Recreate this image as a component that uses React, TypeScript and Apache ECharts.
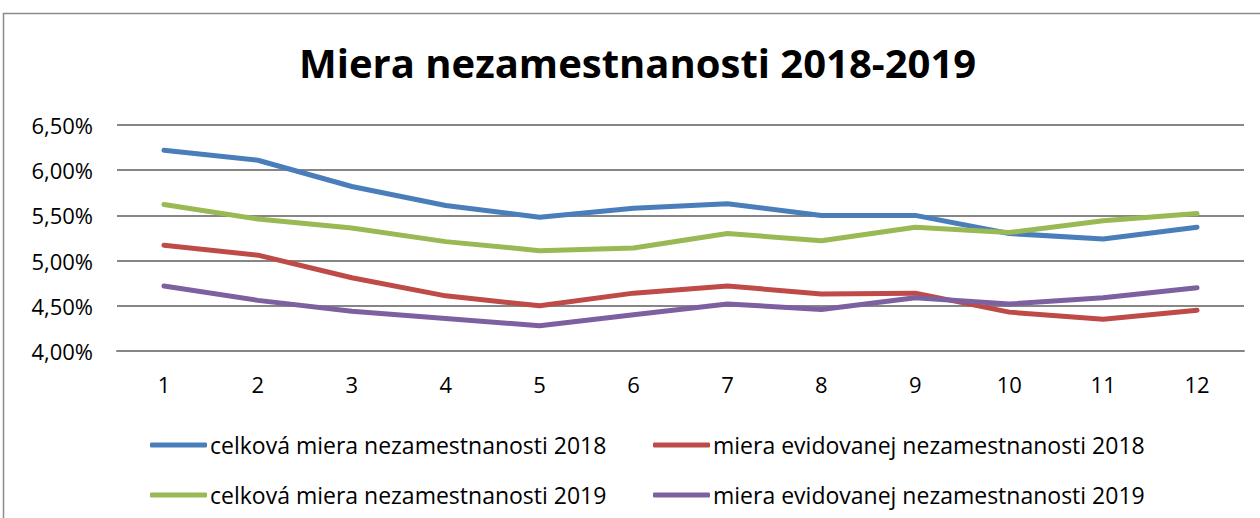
import React, { useEffect, useRef } from "react";
import * as echarts from "echarts";

const months = ["1", "2", "3", "4", "5", "6", "7", "8", "9", "10", "11", "12"];
const celkova2018 = [6.22, 6.11, 5.82, 5.61, 5.48, 5.58, 5.63, 5.50, 5.50, 5.30, 5.24, 5.37];
const evidovana2018 = [5.17, 5.06, 4.81, 4.61, 4.50, 4.64, 4.72, 4.63, 4.64, 4.43, 4.35, 4.45];
const celkova2019 = [5.62, 5.46, 5.36, 5.21, 5.11, 5.14, 5.30, 5.22, 5.37, 5.31, 5.44, 5.52];
const evidovana2019 = [4.72, 4.56, 4.44, 4.36, 4.28, 4.40, 4.52, 4.46, 4.59, 4.52, 4.59, 4.70];
const seriesNames = [
  "celková miera nezamestnanosti 2018",
  "miera evidovanej nezamestnanosti 2018",
  "celková miera nezamestnanosti 2019",
  "miera evidovanej nezamestnanosti 2019",
];
const colors = ["#4A7EBB", "#BE4B48", "#98B954", "#7D60A0"];

const FONT = "'Open Sans', 'Noto Sans', sans-serif";

export default function App() {
  const ref = useRef<HTMLDivElement>(null);
  useEffect(() => {
    document.body.style.margin = "0";
    const chart = echarts.init(ref.current!, null, { renderer: "svg" });
    const data = [celkova2018, evidovana2018, celkova2019, evidovana2019];

    const legendBase = {
      orient: "vertical",
      top: 428,
      itemGap: 26,
      itemWidth: 57,
      itemHeight: 5,
      icon: "roundRect",
      textStyle: {
        fontFamily: FONT,
        fontSize: 23,
        lineHeight: 24,
        color: "#000",
        padding: [0, 0, 0, -2],
      },
    };

    chart.setOption({
      animation: false,
      backgroundColor: "#fff",
      title: {
        text: "Miera nezamestnanosti 2018-2019",
        left: 294,
        top: 37,
        textStyle: {
          fontFamily: FONT,
          fontWeight: "bold",
          fontSize: 40,
          color: "#000",
        },
      },
      graphic: [
        {
          type: "rect",
          silent: true,
          shape: { x: 3.5, y: 13.5, width: 1400, height: 700 },
          style: { fill: "none", stroke: "#8c8c8c", lineWidth: 1.5 },
        },
      ],
      legend: [
        { ...legendBase, left: 145, data: [seriesNames[0], seriesNames[2]] },
        { ...legendBase, left: 648, data: [seriesNames[1], seriesNames[3]] },
      ],
      grid: { left: 117, right: 16, top: 125, bottom: 167, containLabel: false },
      xAxis: {
        type: "category",
        data: months,
        boundaryGap: true,
        axisLine: { show: true, lineStyle: { color: "#868686", width: 2 } },
        axisTick: { show: false },
        axisLabel: {
          margin: 22,
          fontFamily: FONT,
          fontSize: 22,
          color: "#000",
        },
      },
      yAxis: {
        type: "value",
        min: 4,
        max: 6.5,
        interval: 0.5,
        axisLine: { show: false },
        axisTick: { show: false },
        splitLine: { lineStyle: { color: "#868686", width: 2 } },
        axisLabel: {
          margin: 24,
          fontFamily: FONT,
          fontSize: 22,
          color: "#000",
          formatter: (v: number) => v.toFixed(2).replace(".", ",") + "%",
        },
      },
      series: seriesNames.map((name, i) => ({
        name,
        type: "line",
        data: data[i],
        symbol: "none",
        smooth: false,
        color: colors[i],
        lineStyle: { width: 5, color: colors[i], cap: "round", join: "round" },
        itemStyle: { color: colors[i] },
      })),
    });
    return () => chart.dispose();
  }, []);
  return (
    <div
      ref={ref}
      style={{ position: "absolute", left: 0, top: 0, width: 1260, height: 518 }}
    />
  );
}
